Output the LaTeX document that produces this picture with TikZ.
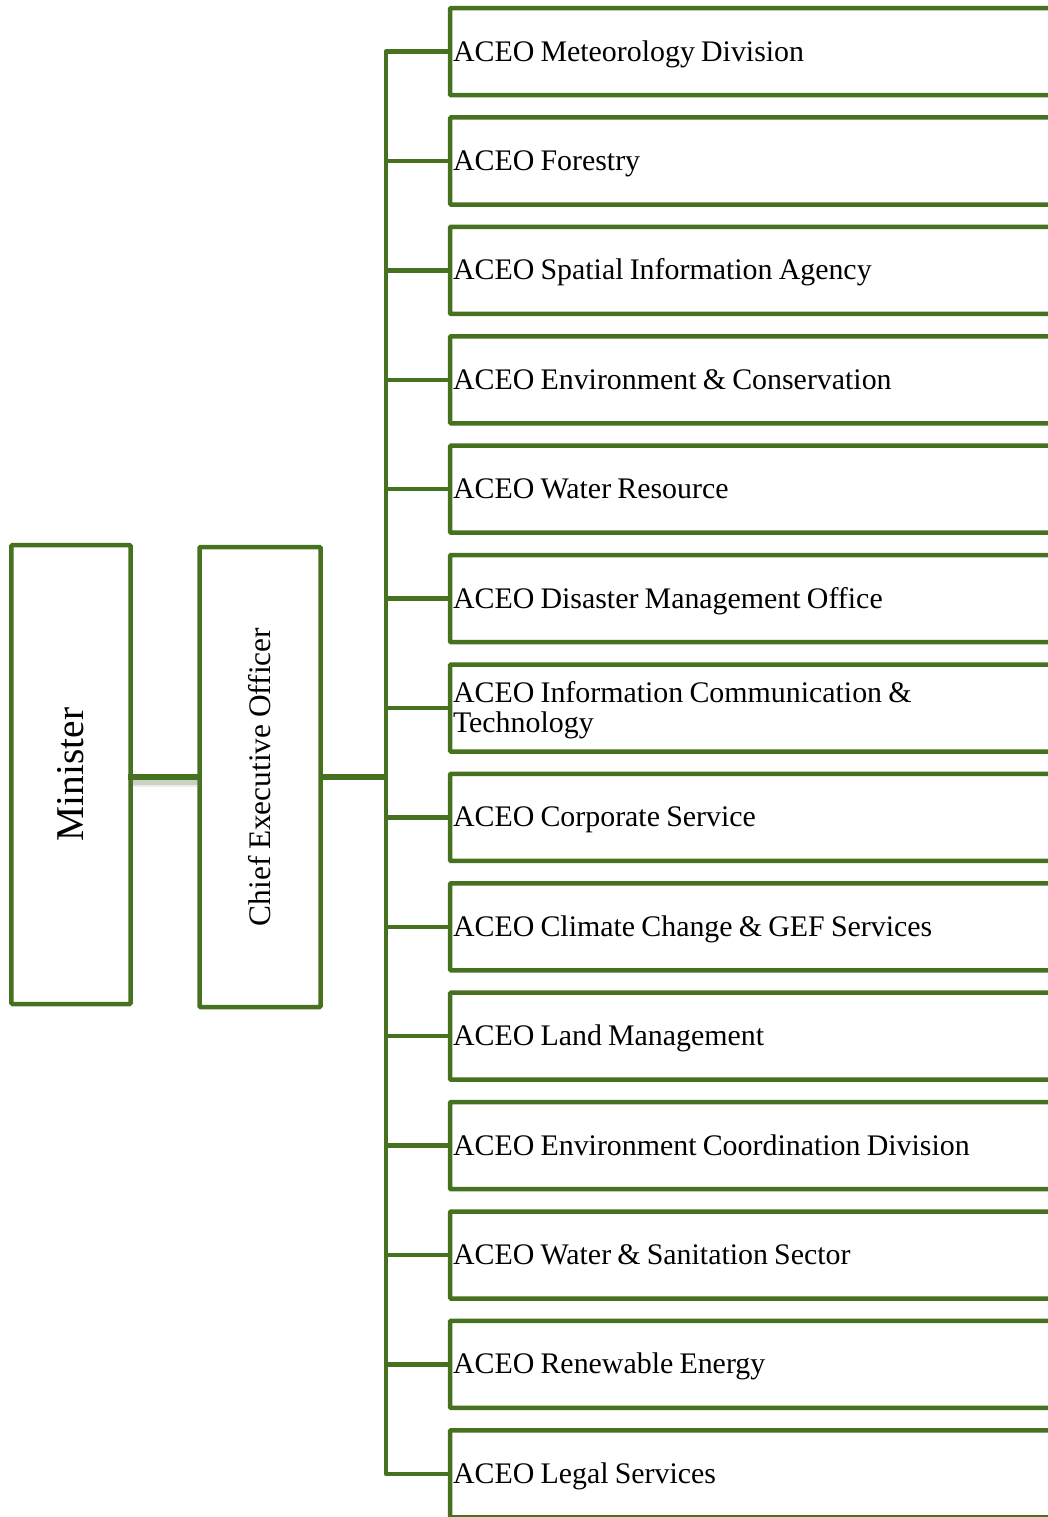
\documentclass[tikz,border=0pt]{standalone}
\usepackage{fontspec}
\setmainfont{Liberation Serif}
\definecolor{orggreen}{RGB}{70,114,32}
\begin{document}
\begin{tikzpicture}[x=1bp,y=-1bp,
  box/.style={draw=orggreen, line width=4.5bp, rounded corners=1bp, fill=white,
    inner sep=0pt, outer sep=0pt},
  unit/.style={box, anchor=west, minimum width=660bp, minimum height=87bp,
    text width=654bp, inner xsep=3bp, inner ysep=0pt, align=left,
    text height=22bp, text depth=3bp,
    font=\fontsize{30}{30}\selectfont,
    execute at begin node={\spaceskip=6.2bp plus 3bp minus 1.5bp\relax}},
  link/.style={draw=orggreen, line width=4.5bp, line join=round},
  mainlink/.style={draw=orggreen, line width=6.5bp},
  shade/.style={draw=orggreen!55!gray, line width=6bp, opacity=0.25}]
\useasboundingbox (0,0) rectangle (1047,1517);

% top-level boxes
\node[box, minimum width=119bp, minimum height=459bp] (min) at (71,774.5)
  {\rotatebox{90}{\fontsize{39.5}{40}\selectfont Minister}};
\node[box, minimum width=121bp, minimum height=460bp] (ceo) at (260,777)
  {\rotatebox{90}{\fontsize{31.5}{32}\selectfont\spaceskip=6.5bp plus 2bp\relax Chief Executive Officer}};

% divisions
\node[unit] (u1)  at (450,  51.6) {ACEO Meteorology Division};
\node[unit] (u2)  at (450, 161.0) {ACEO Forestry};
\node[unit] (u3)  at (450, 270.4) {ACEO Spatial Information Agency};
\node[unit] (u4)  at (450, 379.8) {ACEO Environment \& Conservation};
\node[unit] (u5)  at (450, 489.2) {ACEO Water Resource};
\node[unit] (u6)  at (450, 598.6) {ACEO Disaster Management Office};
\node[unit, text depth=33bp] (u7)  at (450, 708.0) {ACEO Information Communication \&\\Technology};
\node[unit] (u8)  at (450, 817.4) {ACEO Corporate Service};
\node[unit] (u9)  at (450, 926.8) {ACEO Climate Change \& GEF Services};
\node[unit] (u10) at (450,1036.2) {ACEO Land Management};
\node[unit] (u11) at (450,1145.6) {ACEO Environment Coordination Division};
\node[unit] (u12) at (450,1255.0) {ACEO Water \& Sanitation Sector};
\node[unit] (u13) at (450,1364.4) {ACEO Renewable Energy};
\node[unit] (u14) at (450,1473.8) {ACEO Legal Services};

% trunk and branches
\coordinate (ttop) at (386,51.6);
\coordinate (tbot) at (386,1473.8);
\draw[link] (u1.west) -- (ttop) -- (tbot) -- (u14.west);
\foreach \i in {2,...,13}
  \draw[link] (ttop |- u\i.west) -- (u\i.west);

% Minister to CEO (with its soft shadow), CEO to trunk
\draw[shade] ([yshift=-5bp]min.east |- ceo.west) -- ([yshift=-5bp]ceo.west);
\draw[shade, line width=9bp, opacity=0.12] ([yshift=-5bp]min.east |- ceo.west) -- ([yshift=-5bp]ceo.west);
\draw[mainlink] ([xshift=-3bp]min.east |- ceo.west) -- (ceo.west);
\draw[mainlink] (ceo.east) -- (ceo.east -| ttop);
\end{tikzpicture}
\end{document}
